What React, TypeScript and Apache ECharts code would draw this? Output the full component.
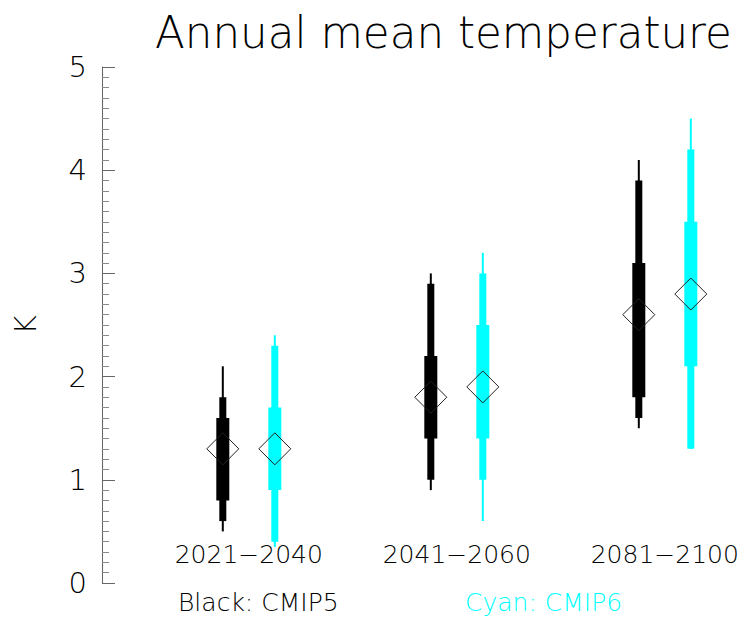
import React, { useEffect, useRef } from "react";
import * as echarts from "echarts";

const periods = ["2021−2040", "2041−2060", "2081−2100"];
// [min, p10, p25, mean, p75, p90, max]
const cmip5 = [
  [0.5, 0.6, 0.8, 1.3, 1.6, 1.8, 2.1],
  [0.9, 1.0, 1.4, 1.8, 2.2, 2.9, 3.0],
  [1.5, 1.6, 1.8, 2.6, 3.1, 3.9, 4.1],
];
const cmip6 = [
  [0.35, 0.4, 0.9, 1.3, 1.7, 2.3, 2.4],
  [0.6, 1.0, 1.4, 1.9, 2.5, 3.0, 3.2],
  [1.3, 1.3, 2.1, 2.8, 3.5, 4.2, 4.5],
];
const yTicks = [0, 1, 2, 3, 4, 5];

const FONT = "'DejaVu Sans', sans-serif";

function makeRender(offset: number, color: string) {
  return (params: any, api: any) => {
    const idx = api.value(0);
    const vals = [1, 2, 3, 4, 5, 6, 7].map((k) => api.value(k));
    const [mn, p10, p25, mean, p75, p90, mx] = vals;
    const x = api.coord([idx, 0])[0] + offset;
    const y = (v: number) => api.coord([idx, v])[1];
    const bar = (lo: number, hi: number, w: number) => ({
      type: "rect",
      shape: { x: x - w / 2, y: y(hi), width: w, height: y(lo) - y(hi) },
      style: { fill: color },
    });
    const cy = y(mean);
    const h = 16;
    return {
      type: "group",
      children: [
        bar(mn, mx, 2),
        bar(p10, p90, 7),
        bar(p25, p75, 13),
        {
          type: "polygon",
          shape: {
            points: [
              [x - h, cy],
              [x, cy - h],
              [x + h, cy],
              [x, cy + h],
            ],
          },
          style: { fill: "none", stroke: "#222", lineWidth: 1 },
        },
      ],
    };
  };
}

export default function App() {
  const ref = useRef<HTMLDivElement>(null);
  useEffect(() => {
    const chart = echarts.init(ref.current!, null, { renderer: "svg" });
    const toData = (arr: number[][]) => arr.map((r, i) => [i, ...r]);
    chart.setOption({
      animation: false,
      backgroundColor: "#ffffff",
      grid: { left: 102, width: 640, top: 67, bottom: 34, containLabel: false },
      xAxis: {
        type: "value",
        min: -0.7058,
        max: 2.3711,
        offset: -29,
        axisLine: { show: false, onZero: false },
        axisTick: { show: false },
        splitLine: { show: false },
        axisLabel: {
          customValues: periods.map((_, i) => i),
          formatter: (v: number) => periods[Math.round(v)] ?? "",
          color: "#000",
          fontFamily: FONT,
          fontWeight: 200,
          fontSize: 25,
          margin: 0,
          verticalAlign: "middle",
          showMinLabel: true,
          showMaxLabel: true,
        },
      },
      yAxis: {
        type: "value",
        min: yTicks[0],
        max: yTicks[yTicks.length - 1],
        interval: 1,
        name: "K",
        nameLocation: "middle",
        nameRotate: 90,
        nameGap: 62,
        nameTextStyle: { color: "#000", fontFamily: FONT, fontWeight: 200, fontSize: 30 },
        axisLine: { show: true, onZero: false, lineStyle: { color: "#666", width: 1 } },
        axisTick: { show: true, inside: true, length: 13, lineStyle: { color: "#666" } },
        minorTick: { show: true, splitNumber: 10, length: 7, lineStyle: { color: "#888" } },
        splitLine: { show: false },
        axisLabel: {
          color: "#000",
          fontFamily: FONT,
          fontWeight: 200,
          fontSize: 29,
          margin: 15,
        },
      },
      graphic: [
        {
          type: "text",
          x: 155,
          y: 33,
          style: {
            text: "Annual mean temperature",
            fill: "#000",
            font: `200 43.6px ${FONT}`,
            verticalAlign: "middle",
          },
        },
        {
          type: "text",
          x: 178,
          y: 602,
          style: {
            text: "Black: CMIP5",
            fill: "#000",
            font: `200 25px ${FONT}`,
            verticalAlign: "middle",
          },
        },
        {
          type: "text",
          x: 465,
          y: 602,
          style: {
            text: "Cyan: CMIP6",
            fill: "#00ffff",
            font: `200 25px ${FONT}`,
            verticalAlign: "middle",
          },
        },
      ],
      series: [
        {
          type: "custom",
          name: "CMIP5",
          renderItem: makeRender(-26, "#000000"),
          encode: { x: 0, y: [1, 7] },
          data: toData(cmip5),
          clip: false,
        },
        {
          type: "custom",
          name: "CMIP6",
          renderItem: makeRender(26, "#00ffff"),
          encode: { x: 0, y: [1, 7] },
          data: toData(cmip6),
          clip: false,
        },
      ],
    });
    return () => chart.dispose();
  }, []);
  return (
    <div
      ref={ref}
      style={{ position: "fixed", left: 0, top: 0, width: 746, height: 617, background: "#fff" }}
    />
  );
}
